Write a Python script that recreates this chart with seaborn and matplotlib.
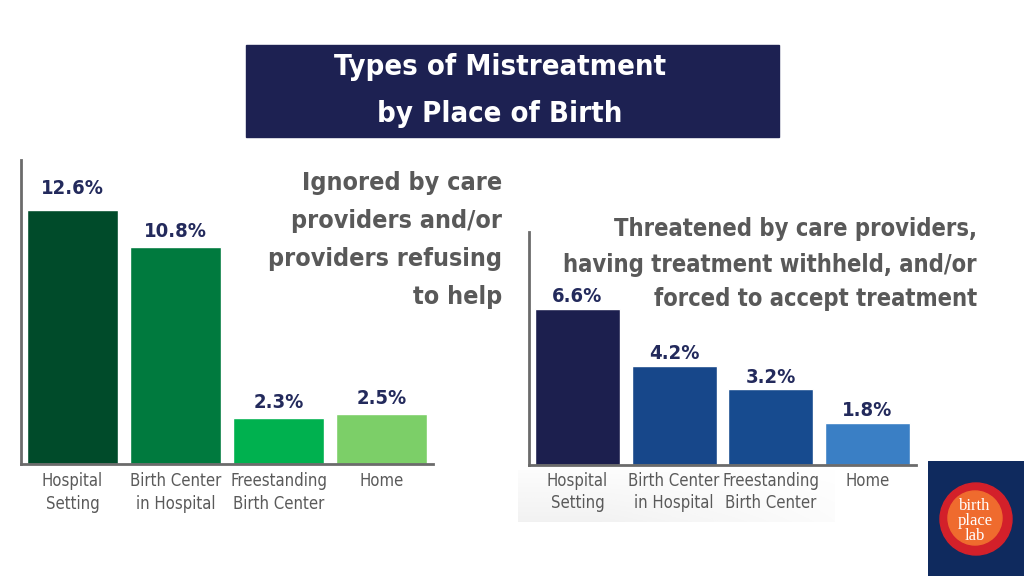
import numpy as np
import pandas as pd
import matplotlib
matplotlib.use('Agg')
import matplotlib.pyplot as plt
from matplotlib.patches import Rectangle, Circle
from matplotlib import font_manager
import seaborn as sns

# dados
places = ['Hospital\nSetting', 'Birth Center\nin Hospital', 'Freestanding\nBirth Center', 'Home']
ignored_pct = [12.6, 10.8, 2.3, 2.5]
threatened_pct = [6.6, 4.2, 3.2, 1.8]
green_colors = ['#004b2a', '#007a3e', '#00b14f', '#7ccf68']
blue_colors = ['#1c1f4e', '#17478a', '#174b8f', '#3a7fc5']

title_lines = ['Types of Mistreatment', 'by Place of Birth']
left_caption = ['Ignored by care', 'providers and/or', 'providers refusing', 'to help']
right_caption = ['Threatened by care providers,', 'having treatment withheld, and/or',
                 'forced to accept treatment']

sns.set_theme(style='white')
plt.rcParams['font.family'] = ['DejaVu Sans']


def pick_font(bold):
    # procura uma fonte estreita instalada (condensed / narrow)
    files = [f.fname for f in font_manager.fontManager.ttflist]
    if bold:
        wanted = ['DejaVuSansCondensed-Bold', 'LiberationSansNarrow-Bold',
                  'RobotoCondensed-Bold', 'OpenSans_Condensed-Bold', 'OpenSansCondensed-Bold',
                  'Roboto-Bold', 'Lato-Bold']
    else:
        wanted = ['DejaVuSansCondensed.', 'LiberationSansNarrow-Regular',
                  'RobotoCondensed-Regular', 'OpenSans_Condensed-Regular',
                  'Roboto-Regular', 'Lato-Regular']
    for w in wanted:
        for f in files:
            if w in f.split('/')[-1]:
                return f
    return None


BOLD = pick_font(True)
REG = pick_font(False)


def fp(bold, size):
    f = BOLD if bold else REG
    if f:
        return font_manager.FontProperties(fname=f, size=size)
    return font_manager.FontProperties(family='DejaVu Sans', stretch='condensed',
                                       weight='bold' if bold else 'normal', size=size)


W, H = 1024, 576
fig = plt.figure(figsize=(W / 100, H / 100), dpi=100)
fig.patch.set_facecolor('white')


def box(x0, y0, x1, y1):
    # pixel box -> figure fraction [left, bottom, width, height]
    return [x0 / W, 1 - y1 / H, (x1 - x0) / W, (y1 - y0) / H]


# sombra cinza clara sob o grafico da direita
sax = fig.add_axes(box(518, 470, 835, 522))
sax.axis('off')
gy = np.linspace(0.2, 1, 50)[:, None]
gx = np.clip(1.25 - np.linspace(0, 1, 300), 0, 1)[None, :]
shade = gy * gx
sax.imshow(shade, aspect='auto', cmap='Greys', vmin=0, vmax=9,
           extent=[0, 1, 0, 1], origin='upper')


def draw_panel(ax, values, colors, ymax, pad, label_pad):
    df = pd.DataFrame({'place': places, 'pct': values})
    sns.barplot(data=df, x='place', y='pct', hue='place', palette=colors,
                width=0.88, legend=False, ax=ax, saturation=1)
    ax.set_ylim(0, ymax)
    ax.set_xlim(-0.5, 3.5)
    ax.set_xlabel('')
    ax.set_ylabel('')
    ax.set_yticks([])
    ax.set_facecolor('none')
    for s in ['top', 'right']:
        ax.spines[s].set_visible(False)
    for s in ['left', 'bottom']:
        ax.spines[s].set_color('#6b6b6b')
        ax.spines[s].set_linewidth(2)
    ax.tick_params(axis='x', length=0, pad=pad, labelcolor='#5a5a5a')
    for lab in ax.get_xticklabels():
        lab.set_fontproperties(fp(False, 12))
        lab.set_linespacing(1.3)
    for c, lp in zip(ax.containers, label_pad):
        ax.bar_label(c, fmt='%.1f%%', padding=lp, fontproperties=fp(True, 14.5),
                     color='#232a5c')


ax1 = fig.add_axes(box(21, 160, 433, 464))
draw_panel(ax1, ignored_pct, green_colors, 15.1, 6, [9, 4, 4, 4])

ax2 = fig.add_axes(box(529, 232, 916, 465))
draw_panel(ax2, threatened_pct, blue_colors, 9.87, 5, [2, 2, 2, 2])

# titulo
fig.patches.append(Rectangle((246 / W, 1 - 137 / H), 533 / W, 92 / H,
                             transform=fig.transFigure, color='#1d2152', zorder=-1))
for line, y in zip(title_lines, [67, 114]):
    fig.text(500 / W, 1 - y / H, line, ha='center', va='center', color='white',
             fontproperties=fp(True, 21))

for line, y in zip(left_caption, [183, 221, 259, 297]):
    fig.text(502 / W, 1 - y / H, line, ha='right', va='center', color='#595959',
             fontproperties=fp(True, 18))
for line, y in zip(right_caption, [229, 265, 299]):
    fig.text(977 / W, 1 - y / H, line, ha='right', va='center', color='#595959',
             fontproperties=fp(True, 17))

# logo
lax = fig.add_axes(box(928, 461, 1024, 576))
lax.set_xlim(928, 1024)
lax.set_ylim(576, 461)
lax.axis('off')
lax.add_patch(Rectangle((928, 461), 96, 115, color='#0f2a5e'))
lax.add_patch(Circle((976, 519), 36, color='#d3202a'))
lax.add_patch(Circle((975, 518), 27, color='#ef6b2e'))
lax.text(975, 521, 'birth\nplace\nlab', ha='center', va='center', color='white',
         fontsize=12, family=['Liberation Serif', 'DejaVu Serif'], linespacing=0.9)

plt.savefig('out.png', dpi=100)
